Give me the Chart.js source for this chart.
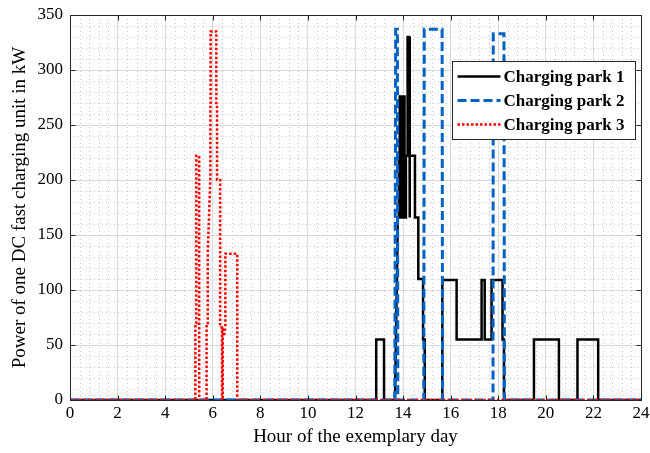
<!DOCTYPE html>
<html>
<head>
<meta charset="utf-8">
<script src="https://cdn.jsdelivr.net/npm/chart.js@4.4.1/dist/chart.umd.min.js"></script>
<style>
html,body{margin:0;padding:0;background:#fff;}
#wrap{width:650px;height:453px;}
</style>
</head>
<body>
<div id="wrap"><canvas id="c" width="650" height="453"></canvas></div>
<script>
// ---- data ----
const seriesLabels = ['Charging park 1', 'Charging park 2', 'Charging park 3'];
const xTitle = 'Hour of the exemplary day';
const yTitle = 'Power of one DC fast charging unit in kW';
const xTickValues = [0,2,4,6,8,10,12,14,16,18,20,22,24];
const yTickValues = [0,50,100,150,200,250,300,350];

const park1Hours = [0,12.87,12.87,13.20,13.20,13.66,13.78,13.82,13.82,13.86,13.86,13.92,13.92,13.96,13.96,14.06,14.06,14.12,14.12,14.19,14.19,14.26,14.26,14.29,14.29,14.50,14.50,14.64,14.64,14.84,14.84,14.91,14.91,15.65,15.65,16.25,16.25,17.30,17.30,17.43,17.43,17.72,17.72,18.18,18.18,18.24,18.24,19.50,19.50,20.55,20.55,21.33,21.33,22.20,22.20,24];
const park1Power = [0,0,55,55,0,0,166,166,222,222,276,276,166,166,276,276,166,166,222,222,330,330,166,166,222,222,166,166,110,110,55,55,0,0,109,109,55,55,109,109,55,55,109,109,55,55,0,0,55,55,0,0,55,55,0,0];

const park2Hours = [0,13.65,13.69,13.76,13.78,14.87,14.89,15.64,15.66,17.78,17.79,18.24,18.26,24];
const park2Power = [0,0,337,337,0,0,337,337,0,0,333,333,0,0];

const park3Hours = [0,5.27,5.27,5.31,5.31,5.43,5.43,5.74,5.74,5.79,5.79,5.90,5.90,5.91,5.91,6.15,6.15,6.18,6.18,6.31,6.31,6.39,6.39,6.42,6.42,6.47,6.53,6.53,7.03,7.03,24];
const park3Power = [0,0,70,70,222,222,0,0,70,70,134,203,268,268,335,335,268,268,200,200,66,66,0,0,66,58,66,133,133,0,0];

const toPts = (xs, ys) => xs.map((v, i) => ({x: v, y: ys[i]}));

const FONT = 'Liberation Serif';

const frame = {
  id: 'frame',
  beforeDatasetsDraw(chart) {
    const {ctx, chartArea: a, scales: {x, y}} = chart;
    ctx.save();
    ctx.strokeStyle = '#cbcbcb';
    ctx.lineWidth = 1;
    ctx.setLineDash([1, 3]);
    ctx.beginPath();
    for (let i = 1; i < 60; i++) {
      if (i % 5 === 0) continue;
      const px = Math.round(x.getPixelForValue(i * 0.4)) + 0.5;
      ctx.moveTo(px, a.top); ctx.lineTo(px, a.bottom);
    }
    for (let j = 1; j < 35; j++) {
      if (j % 5 === 0) continue;
      const py = Math.round(y.getPixelForValue(j * 10)) + 0.5;
      ctx.moveTo(a.left, py); ctx.lineTo(a.right, py);
    }
    ctx.stroke();
    ctx.restore();
  },
  afterDatasetsDraw(chart) {
    const {ctx, chartArea: a, scales: {x, y}} = chart;
    ctx.save();
    const L = Math.round(a.left) + 0.5, R = Math.round(a.right) + 0.5;
    const T = Math.round(a.top) + 0.5, B = Math.round(a.bottom) + 0.5;
    ctx.strokeStyle = '#262626';
    ctx.lineWidth = 1;
    ctx.setLineDash([]);
    ctx.strokeRect(L, T, R - L, B - T);
    ctx.beginPath();
    xTickValues.forEach(v => {
      const px = Math.round(x.getPixelForValue(v)) + 0.5;
      ctx.moveTo(px, B); ctx.lineTo(px, B - 5);
      ctx.moveTo(px, T); ctx.lineTo(px, T + 5);
    });
    yTickValues.forEach(v => {
      const py = Math.round(y.getPixelForValue(v)) + 0.5;
      ctx.moveTo(L, py); ctx.lineTo(L + 5, py);
      ctx.moveTo(R, py); ctx.lineTo(R - 5, py);
    });
    ctx.stroke();

    // legend box
    const lw = 183, lh = 78;
    const lx = R - 6 - lw, ly = T + 46;
    ctx.fillStyle = '#fff';
    ctx.fillRect(lx, ly, lw, lh);
    ctx.strokeStyle = '#262626';
    ctx.strokeRect(lx, ly, lw, lh);
    chart.data.datasets.forEach((ds, i) => {
      const cy = ly + 15 + i * 24;
      ctx.strokeStyle = ds.borderColor;
      ctx.lineWidth = ds.borderWidth;
      ctx.setLineDash(ds.borderDash || []);
      ctx.beginPath();
      ctx.moveTo(lx + 5, cy); ctx.lineTo(lx + 48, cy);
      ctx.stroke();
      ctx.setLineDash([]);
      ctx.fillStyle = '#000';
      ctx.font = 'bold 17px "' + FONT + '"';
      ctx.textBaseline = 'middle';
      ctx.textAlign = 'left';
      ctx.fillText(ds.label, lx + 51, cy + 1);
    });
    ctx.restore();
  }
};

new Chart(document.getElementById('c'), {
  type: 'line',
  data: {
    datasets: [
      {label: seriesLabels[0], data: toPts(park1Hours, park1Power), borderColor: '#000000', borderWidth: 2.5, borderDash: [], order: 2},
      {label: seriesLabels[1], data: toPts(park2Hours, park2Power), borderColor: '#0062c4', borderWidth: 3, borderDash: [9, 4], order: 1},
      {label: seriesLabels[2], data: toPts(park3Hours, park3Power), borderColor: '#ff0000', borderWidth: 2.5, borderDash: [2.5, 2], order: 0}
    ]
  },
  options: {
    responsive: false,
    animation: false,
    devicePixelRatio: 1,
    elements: {point: {radius: 0}, line: {tension: 0, fill: false, borderJoinStyle: 'miter', borderCapStyle: 'butt'}},
    layout: {padding: {left: 0, right: 9, top: 15, bottom: 0}},
    plugins: {legend: {display: false}, tooltip: {enabled: false}},
    scales: {
      x: {
        type: 'linear', min: 0, max: 24,
        afterBuildTicks: s => { s.ticks = xTickValues.map(v => ({value: v})); },
        ticks: {color: '#000', font: {family: FONT, size: 17, lineHeight: 1.55}, padding: 0, maxRotation: 0, autoSkip: false},
        grid: {color: '#dadada', lineWidth: 1, drawTicks: false},
        border: {display: false},
        title: {display: true, text: xTitle, color: '#000', font: {family: FONT, size: 19}, padding: {top: 0, bottom: 5}},
        afterFit: s => { s.height = 53; }
      },
      y: {
        type: 'linear', min: 0, max: 350,
        afterBuildTicks: s => { s.ticks = yTickValues.map(v => ({value: v})); },
        ticks: {color: '#000', font: {family: FONT, size: 17, lineHeight: 0.9}, padding: 7, autoSkip: false},
        grid: {color: '#dadada', lineWidth: 1, drawTicks: false},
        border: {display: false},
        title: {display: true, text: yTitle, color: '#000', font: {family: FONT, size: 19}, padding: {top: 9, bottom: 0}},
        afterFit: s => { s.width = 70; }
      }
    }
  },
  plugins: [frame]
});
</script>
</body>
</html>
